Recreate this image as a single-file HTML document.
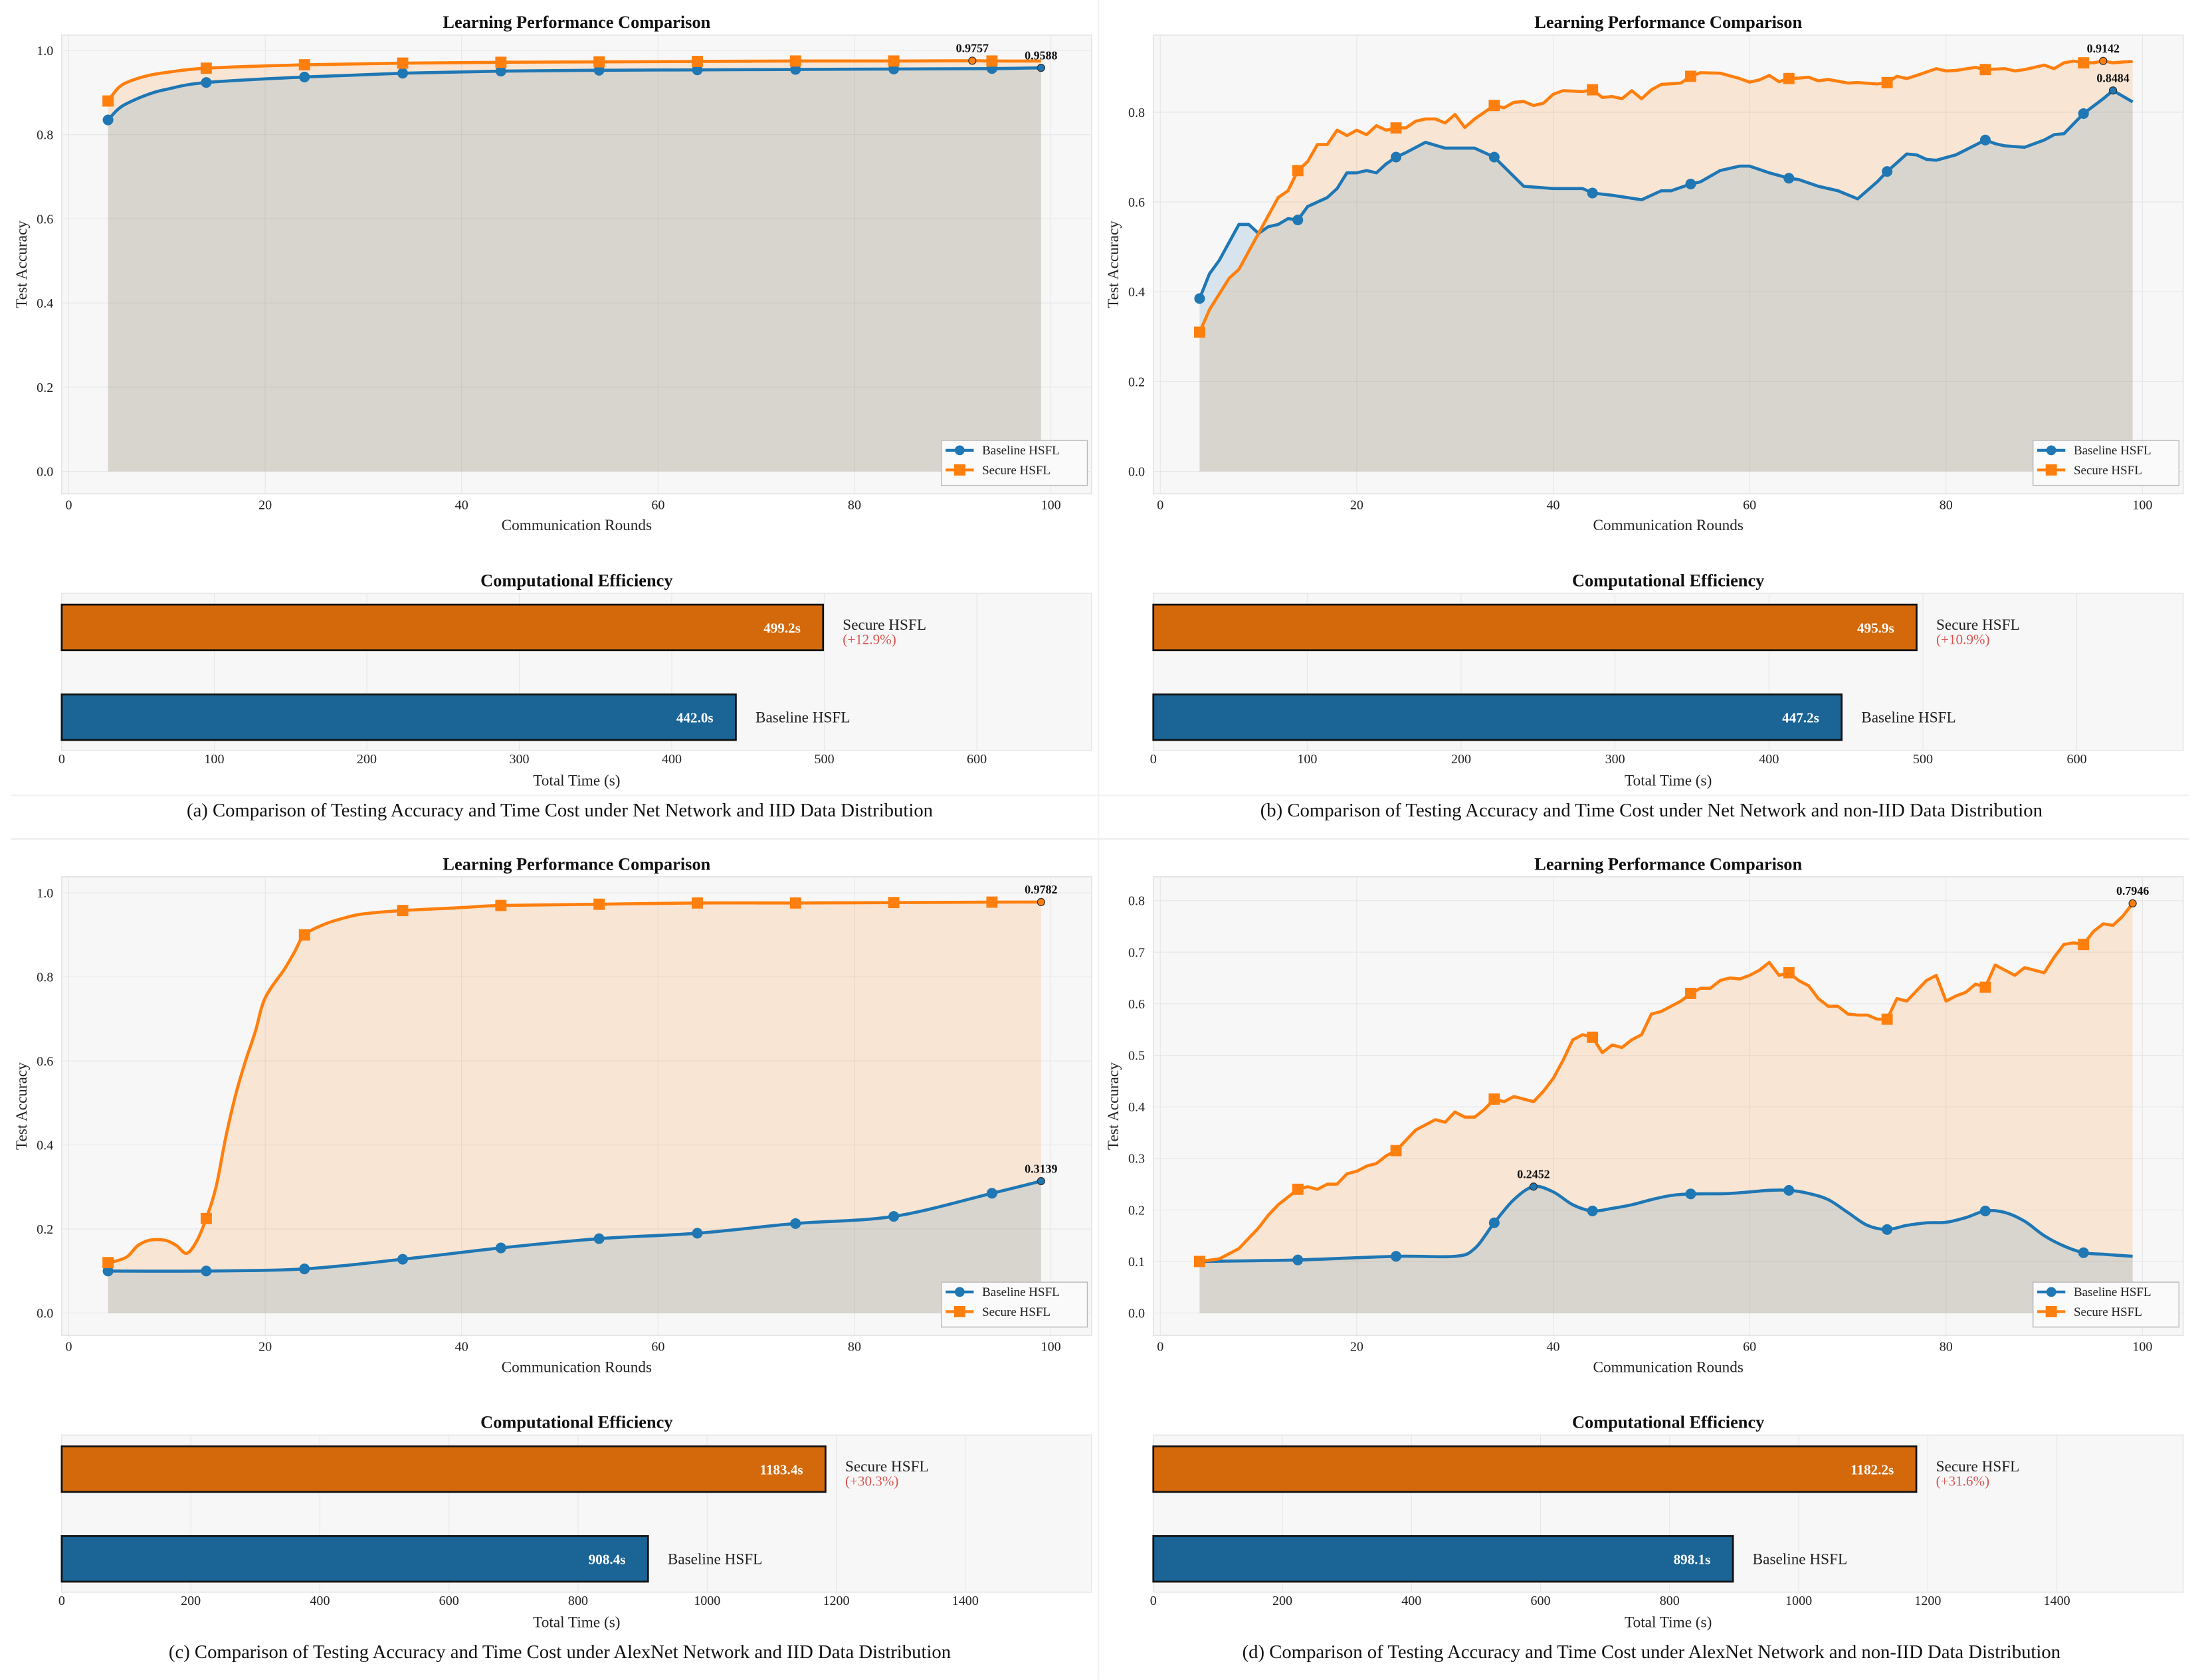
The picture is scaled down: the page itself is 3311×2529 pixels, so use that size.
<!DOCTYPE html>
<html><head><meta charset="utf-8"><style>
html,body{margin:0;padding:0;background:#fff;}
svg{display:block;font-family:"Liberation Serif",serif;}
</style></head><body>
<svg id="root" width="3311" height="2529" viewBox="0 0 1568 1197.6" preserveAspectRatio="none" xmlns="http://www.w3.org/2000/svg"></svg>
<script>
// ---------- DATA ----------
const roundsA = [4,5,6,8,10,14,24,34,44,54,64,74,84,94,99];
const baseA   = [0.835,0.86,0.875,0.895,0.908,0.924,0.937,0.946,0.951,0.953,0.954,0.955,0.956,0.957,0.9588];
const roundsA2= [4,5,6,8,10,14,24,34,44,54,64,74,84,92,94,99];
const secA    = [0.88,0.91,0.925,0.94,0.948,0.958,0.966,0.970,0.972,0.973,0.974,0.975,0.975,0.9757,0.975,0.975];

const roundsBb = [4,5,6,7,8,9,10,11,12,13,14,15,17,18,19,20,21,22,23,24,25,27,29,32,34,37,40,43,44,46,49,51,52,54,55,57,59,60,62,64,65,67,69,71,73,74,76,77,78,79,81,84,85,86,88,90,91,92,94,96,97,99];
const baseB    = [0.385,0.44,0.47,0.51,0.55,0.55,0.53,0.545,0.55,0.563,0.56,0.59,0.61,0.63,0.665,0.665,0.67,0.665,0.685,0.70,0.71,0.733,0.72,0.72,0.70,0.635,0.63,0.63,0.62,0.615,0.605,0.625,0.625,0.64,0.645,0.67,0.68,0.68,0.665,0.653,0.65,0.635,0.625,0.607,0.645,0.668,0.707,0.705,0.695,0.693,0.705,0.738,0.73,0.725,0.722,0.738,0.75,0.752,0.797,0.83,0.8484,0.823];
const roundsBs = [4,5,6,7,8,9,10,11,12,13,14,15,16,17,18,19,20,21,22,23,24,25,26,27,28,29,30,31,32,33,34,35,36,37,38,39,40,41,43,44,45,46,47,48,49,50,51,53,54,55,57,59,60,61,62,63,64,65,66,67,68,70,71,73,74,75,76,77,79,80,81,83,84,85,86,87,88,89,90,91,92,93,94,95,96,97,98,99];
const secB     = [0.31,0.36,0.395,0.43,0.45,0.49,0.53,0.57,0.61,0.625,0.67,0.69,0.728,0.728,0.76,0.748,0.76,0.75,0.77,0.76,0.765,0.765,0.78,0.785,0.785,0.776,0.795,0.766,0.785,0.80,0.815,0.81,0.822,0.824,0.815,0.82,0.84,0.848,0.846,0.85,0.833,0.835,0.83,0.848,0.83,0.85,0.862,0.865,0.88,0.888,0.887,0.875,0.867,0.872,0.882,0.868,0.875,0.876,0.878,0.87,0.873,0.865,0.866,0.863,0.866,0.88,0.875,0.882,0.897,0.892,0.893,0.9,0.895,0.896,0.897,0.892,0.895,0.9,0.905,0.897,0.91,0.914,0.91,0.91,0.9142,0.91,0.912,0.913];

const roundsCb = [4,14,24,34,44,54,64,74,84,94,99];
const baseC    = [0.10,0.10,0.105,0.128,0.155,0.177,0.19,0.213,0.23,0.285,0.3139];
const roundsCs = [4,5,6,7,8,9,10,11,12,13,14,15,16,17,18,19,20,22,23,24,26,28,30,34,40,44,54,64,74,84,94,99];
const secC     = [0.12,0.125,0.135,0.16,0.172,0.175,0.172,0.16,0.142,0.17,0.225,0.30,0.42,0.52,0.60,0.67,0.75,0.82,0.86,0.90,0.925,0.94,0.95,0.958,0.965,0.97,0.973,0.976,0.976,0.977,0.978,0.9782];

const roundsDb = [4,14,24,30,32,34,36,38,40,42,44,46,48,50,52,54,58,62,64,66,68,70,72,74,76,78,80,82,84,86,88,90,92,94,96,99];
const baseD    = [0.10,0.103,0.11,0.11,0.125,0.175,0.22,0.2452,0.235,0.21,0.198,0.203,0.21,0.22,0.228,0.231,0.232,0.238,0.238,0.232,0.22,0.195,0.17,0.162,0.17,0.175,0.176,0.185,0.198,0.195,0.178,0.15,0.13,0.117,0.114,0.11];
const roundsDs = [4,6,8,10,11,12,13,14,15,16,17,18,19,20,21,22,23,24,25,26,27,28,29,30,31,32,33,34,35,36,37,38,39,40,41,42,43,44,45,46,47,48,49,50,51,52,53,54,55,56,57,58,59,60,61,62,63,64,65,66,67,68,69,70,71,72,73,74,75,76,77,78,79,80,81,82,83,84,85,86,87,88,89,90,91,92,93,94,95,96,97,98,99];
const secD     = [0.10,0.105,0.125,0.165,0.19,0.21,0.225,0.24,0.245,0.24,0.25,0.25,0.27,0.275,0.285,0.29,0.305,0.315,0.335,0.355,0.365,0.375,0.37,0.39,0.38,0.38,0.395,0.415,0.41,0.42,0.415,0.41,0.43,0.455,0.49,0.53,0.54,0.535,0.505,0.52,0.515,0.53,0.54,0.58,0.585,0.595,0.605,0.62,0.63,0.63,0.645,0.65,0.648,0.655,0.665,0.68,0.655,0.66,0.645,0.635,0.61,0.595,0.595,0.58,0.578,0.578,0.57,0.57,0.61,0.605,0.625,0.645,0.655,0.605,0.615,0.622,0.638,0.632,0.675,0.665,0.655,0.67,0.665,0.66,0.69,0.715,0.718,0.715,0.74,0.755,0.752,0.77,0.7946];

const markerRounds = [4,14,24,34,44,54,64,74,84,94];
const timeLabels = ["Secure HSFL","Baseline HSFL"];
const timesA = [499.2,442.0]; const pctA = "(+12.9%)";
const timesB = [495.9,447.2]; const pctB = "(+10.9%)";
const timesC = [1183.4,908.4]; const pctC = "(+30.3%)";
const timesD = [1182.2,898.1]; const pctD = "(+31.6%)";
const xTicksLine = [0,20,40,60,80,100];
const yTicksAC = [0,0.2,0.4,0.6,0.8,1.0];
const yTicksB = [0,0.2,0.4,0.6,0.8];
const yTicksD = [0,0.1,0.2,0.3,0.4,0.5,0.6,0.7,0.8];
const tTicksAB = [0,100,200,300,400,500,600];
const tTicksCD = [0,200,400,600,800,1000,1200,1400];

// ---------- DRAW ----------
const NS="http://www.w3.org/2000/svg";
const root=document.getElementById('root');
function mk(tag,attrs,parent){const e=document.createElementNS(NS,tag);for(const k in attrs)e.setAttribute(k,attrs[k]);(parent||root).appendChild(e);return e;}
function txt(s,attrs,parent){const e=mk('text',attrs,parent);e.textContent=s;return e;}
function interp(xs,ys,x){for(let i=0;i<xs.length-1;i++){if(x>=xs[i]&&x<=xs[i+1]){const t=(x-xs[i])/(xs[i+1]-xs[i]);return ys[i]+t*(ys[i+1]-ys[i]);}}return ys[ys.length-1];}
function smoothPath(pts){let d=`M${pts[0][0]},${pts[0][1]}`;for(let i=0;i<pts.length-1;i++){const p0=pts[Math.max(0,i-1)],p1=pts[i],p2=pts[i+1],p3=pts[Math.min(pts.length-1,i+2)];const c1=[p1[0]+(p2[0]-p0[0])/6,p1[1]+(p2[1]-p0[1])/6],c2=[p2[0]-(p3[0]-p1[0])/6,p2[1]-(p3[1]-p1[1])/6];d+=` C${c1[0]},${c1[1]} ${c2[0]},${c2[1]} ${p2[0]},${p2[1]}`;}return d;}
function linePath(pts){return 'M'+pts.map(p=>p[0]+','+p[1]).join(' L');}

function linePanel(ox,oy,cfg){
  const g=mk('g',{});
  
  
  const L=44+ox,R=778+ox,T=25+oy,B=352+oy;
  const X=v=>L+5+v*7.0;
  const Y=v=>cfg.y0+oy-v*cfg.yk;
  mk('rect',{x:L,y:T,width:R-L,height:B-T,fill:'#f7f7f7',stroke:'#e4e4e4','stroke-width':0.8},g);
  xTicksLine.forEach(t=>{mk('line',{x1:X(t),x2:X(t),y1:T,y2:B,stroke:'#e6e6e6','stroke-width':0.5},g);
    const l=txt(String(t),{x:X(t),y:B+11,'font-size':9.5,'text-anchor':'middle',fill:'#222'},g);});
  cfg.yt.forEach(t=>{mk('line',{x1:L,x2:R,y1:Y(t),y2:Y(t),stroke:'#e6e6e6','stroke-width':0.5},g);
    const l=txt(t.toFixed(1),{x:L-6,y:Y(t)+3.3,'font-size':9.5,'text-anchor':'end',fill:'#222'},g);});
  const bp=cfg.rb.map((r,i)=>[X(r),Y(cfg.b[i])]);
  const sp=cfg.rs.map((r,i)=>[X(r),Y(cfg.s[i])]);
  const pf=cfg.smooth?smoothPath:linePath;
  const y0=Y(0);
  const fs=mk('path',{d:pf(sp)+` L${sp[sp.length-1][0]},${y0} L${sp[0][0]},${y0} Z`,fill:'#ff7f0e','fill-opacity':0.15},g);
  
  const fb=mk('path',{d:pf(bp)+` L${bp[bp.length-1][0]},${y0} L${bp[0][0]},${y0} Z`,fill:'#1f77b4','fill-opacity':0.15},g);
  
  const lb=mk('path',{d:(cfg.smoothB?smoothPath:pf)(bp),fill:'none',stroke:'#1f77b4','stroke-width':2.2,'stroke-linejoin':'round'},g);
  
  const ls=mk('path',{d:pf(sp),fill:'none',stroke:'#ff7f0e','stroke-width':2.2,'stroke-linejoin':'round'},g);
  
  markerRounds.forEach(r=>{
    const c=mk('circle',{cx:X(r),cy:Y(interp(cfg.rb,cfg.b,r)),r:3.8,fill:'#1f77b4'},g);
    
    const sy=Y(interp(cfg.rs,cfg.s,r));
    const s=mk('rect',{x:X(r)-4,y:sy-4,width:8,height:8,fill:'#ff7f0e'},g);
    
  });
  cfg.ann.forEach(a=>{
    const arr=a.s?[cfg.rs,cfg.s]:[cfg.rb,cfg.b];
    const v=interp(arr[0],arr[1],a.r);
    mk('circle',{cx:X(a.r),cy:Y(v),r:2.6,fill:a.s?'#ff7f0e':'#1f77b4',stroke:'#333','stroke-width':0.6},g);
    const t=txt(v.toFixed(4),{x:X(a.r)+(a.dx||0),y:Y(v)-6,'font-size':8.5,'font-weight':'bold','text-anchor':'middle',fill:'#111'},g);
    
  });
  const lg=mk('g',{},g);
  mk('rect',{x:R-107,y:B-38,width:104,height:32,fill:'#fafafa',stroke:'#bbb','stroke-width':0.7},lg);
  mk('line',{x1:R-104,x2:R-84,y1:B-31,y2:B-31,stroke:'#1f77b4','stroke-width':2},lg);
  mk('circle',{cx:R-94,cy:B-31,r:3.5,fill:'#1f77b4'},lg);
  const e1=txt('Baseline HSFL',{x:R-78,y:B-28,'font-size':9,fill:'#222'},lg);
  mk('line',{x1:R-104,x2:R-84,y1:B-17,y2:B-17,stroke:'#ff7f0e','stroke-width':2},lg);
  mk('rect',{x:R-98,y:B-21,width:8,height:8,fill:'#ff7f0e'},lg);
  const e2=txt('Secure HSFL',{x:R-78,y:B-14,'font-size':9,fill:'#222'},lg);
  const ti=txt('Learning Performance Comparison',{x:(L+R)/2,y:T-5,'font-size':12.5,'font-weight':'bold','text-anchor':'middle',fill:'#111'},g);
  
  const xl=txt('Communication Rounds',{x:(L+R)/2,y:B+26,'font-size':11,'text-anchor':'middle',fill:'#222'},g);
  
  const yl=txt('Test Accuracy',{x:0,y:0,'font-size':11,'text-anchor':'middle',fill:'#222',transform:`translate(${ox+19},${(T+B)/2}) rotate(-90)`},g);
  
}

function barPanel(ox,oy,times,pct,k,ticks,caption,name){
  const g=mk('g',{});
  
  
  const L=44+ox,R=778+ox,T=423+oy,B=535+oy;
  const X=v=>L+v*k;
  mk('rect',{x:L,y:T,width:R-L,height:B-T,fill:'#f7f7f7',stroke:'#e8e8e8','stroke-width':0.8},g);
  ticks.forEach(t=>{mk('line',{x1:X(t),x2:X(t),y1:T,y2:B,stroke:'#e6e6e6','stroke-width':0.5},g);
    const l=txt(String(t),{x:X(t),y:B+9,'font-size':9.5,'text-anchor':'middle',fill:'#222'},g);});
  const ys=[431+oy,495+oy],cols=['#d4690b','#1a6496'];
  times.forEach((v,i)=>{
    const b=mk('rect',{x:L,y:ys[i],width:X(v)-L,height:32.5,fill:cols[i],stroke:'#111','stroke-width':1.3},g);
    
    const vl=txt(v.toFixed(1)+'s',{x:X(v)-16,y:ys[i]+20,'font-size':10,'font-weight':'bold','text-anchor':'end',fill:'#fff'},g);
    
    const nl=txt(timeLabels[i],{x:X(v)+14,y:ys[i]+(i==0?18:20),'font-size':11,fill:'#222'},g);
    
  });
  const p=txt(pct,{x:X(times[0])+14,y:ys[0]+28,'font-size':10,fill:'#d9534f'},g);
  
  const ti=txt('Computational Efficiency',{x:(L+R)/2,y:T-5,'font-size':12.5,'font-weight':'bold','text-anchor':'middle',fill:'#111'},g);
  
  const xl=txt('Total Time (s)',{x:(L+R)/2,y:B+25,'font-size':11,'text-anchor':'middle',fill:'#222'},g);
  
  const c=txt(caption,{x:(L+R)/2 - 12,y:oy+582,'font-size':13.6,'text-anchor':'middle',fill:'#111'},g);
  
}

mk('line',{x1:783,x2:783,y1:0,y2:1197,stroke:'#f2f2f2','stroke-width':1});
mk('line',{x1:8,x2:1560,y1:567,y2:567,stroke:'#f2f2f2','stroke-width':1});
mk('line',{x1:8,x2:1560,y1:598,y2:598,stroke:'#ececec','stroke-width':1});

linePanel(0,0,{name:'a',y0:336,yk:300,yt:yTicksAC,rb:roundsA,b:baseA,rs:roundsA2,s:secA,smooth:true,ann:[{r:92,s:true},{r:99,s:false}]});
linePanel(778,0,{name:'b',y0:336,yk:320,yt:yTicksB,rb:roundsBb,b:baseB,rs:roundsBs,s:secB,smooth:false,ann:[{r:96,s:true},{r:97,s:false}]});
linePanel(0,600,{name:'c',y0:336,yk:299.5,yt:yTicksAC,rb:roundsCb,b:baseC,rs:roundsCs,s:secC,smooth:true,ann:[{r:99,s:true},{r:99,s:false}]});
linePanel(778,600,{name:'d',y0:336,yk:367.5,yt:yTicksD,rb:roundsDb,b:baseD,rs:roundsDs,s:secD,smooth:false,smoothB:true,ann:[{r:99,s:true},{r:38,s:false}]});

barPanel(0,0,timesA,pctA,1.087,tTicksAB,'(a) Comparison of Testing Accuracy and Time Cost under Net Network and IID Data Distribution','a');
barPanel(778,0,timesB,pctB,1.097,tTicksAB,'(b) Comparison of Testing Accuracy and Time Cost under Net Network and non-IID Data Distribution','b');
barPanel(0,600,timesC,pctC,0.46,tTicksCD,'(c) Comparison of Testing Accuracy and Time Cost under AlexNet Network and IID Data Distribution','c');
barPanel(778,600,timesD,pctD,0.46,tTicksCD,'(d) Comparison of Testing Accuracy and Time Cost under AlexNet Network and non-IID Data Distribution','d');
</script>
</body></html>
